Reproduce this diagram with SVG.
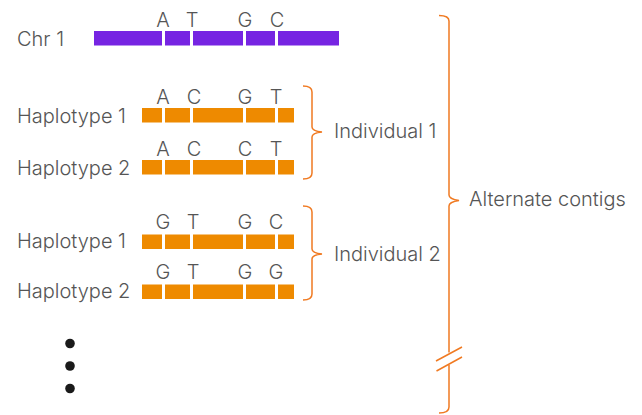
<svg xmlns="http://www.w3.org/2000/svg" width="642" height="415" viewBox="0 0 642 415">
<style>
text{font-family:Inter,"Liberation Sans",sans-serif;font-size:20px;fill:#555;font-weight:300}
.b{text-anchor:middle}
.chr{fill:#7624E2}
.hap{fill:#EE8A00}
.br{fill:none;stroke:#F07A22;stroke-width:1.5}
.dot{fill:#1a1a1a}
</style>
<defs>
<g id="hapbar">
<rect class="hap" x="142" y="0" width="20" height="14.5"/>
<rect class="hap" x="165" y="0" width="25" height="14.5"/>
<rect class="hap" x="193" y="0" width="50" height="14.5"/>
<rect class="hap" x="246" y="0" width="29" height="14.5"/>
<rect class="hap" x="278" y="0" width="16" height="14.5"/>
</g>
</defs>
<g id="chr1">
<text x="17" y="45.5">Chr 1</text>
<rect class="chr" x="94" y="31" width="68" height="14.5"/>
<rect class="chr" x="165" y="31" width="25" height="14.5"/>
<rect class="chr" x="193" y="31" width="50" height="14.5"/>
<rect class="chr" x="246" y="31" width="29" height="14.5"/>
<rect class="chr" x="278" y="31" width="61" height="14.5"/>
<text class="b" x="163" y="27">A</text>
<text class="b" x="192" y="27">T</text>
<text class="b" x="245" y="27">G</text>
<text class="b" x="277" y="27">C</text>
</g>
<g id="ind1-hap1">
<text x="17" y="123">Haplotype 1</text>
<use href="#hapbar" y="108"/>
<text class="b" x="163" y="104">A</text>
<text class="b" x="194" y="104">C</text>
<text class="b" x="245" y="104">G</text>
<text class="b" x="276" y="104">T</text>
</g>
<g id="ind1-hap2">
<text x="17" y="175">Haplotype 2</text>
<use href="#hapbar" y="160"/>
<text class="b" x="163" y="156">A</text>
<text class="b" x="194" y="156">C</text>
<text class="b" x="245" y="156">C</text>
<text class="b" x="276" y="156">T</text>
</g>
<g id="ind2-hap1">
<text x="17" y="248">Haplotype 1</text>
<use href="#hapbar" y="234.5"/>
<text class="b" x="163" y="229">G</text>
<text class="b" x="193" y="229">T</text>
<text class="b" x="245" y="229">G</text>
<text class="b" x="276" y="229">C</text>
</g>
<g id="ind2-hap2">
<text x="17" y="298">Haplotype 2</text>
<use href="#hapbar" y="284.5"/>
<text class="b" x="163" y="279">G</text>
<text class="b" x="193" y="279">T</text>
<text class="b" x="245" y="279">G</text>
<text class="b" x="276" y="279">G</text>
</g>
<g id="more">
<circle class="dot" cx="70" cy="343.5" r="4.8"/>
<circle class="dot" cx="70" cy="366" r="4.8"/>
<circle class="dot" cx="70" cy="388.5" r="4.8"/>
</g>
<g id="individual1">
<text x="334" y="138">Individual 1</text>
</g>
<g id="individual2">
<text x="334" y="261">Individual 2</text>
</g>
<g id="alternate">
<text x="469" y="205.5">Alternate contigs</text>
</g>
<g id="connectors">
<path class="br" d="M303,86 Q312,86 312,92 L312,127 Q312,131 322,132 Q312,133 312,137 L312,173 Q312,179 303,179"/>
<path class="br" d="M303,206 Q312,206 312,212 L312,249 Q312,253 322,254 Q312,255 312,259 L312,294 Q312,300 303,300"/>
<path class="br" d="M439,15.5 Q449,15.5 449,21 L449,195 Q449,199 459,200.5 Q449,202 449,206 L449,352.5 M449,365 L449,407 Q449,413 439,413"/>
<path class="br" d="M436,361 L462,347 M436.5,371 L462,357"/>
</g>
</svg>
